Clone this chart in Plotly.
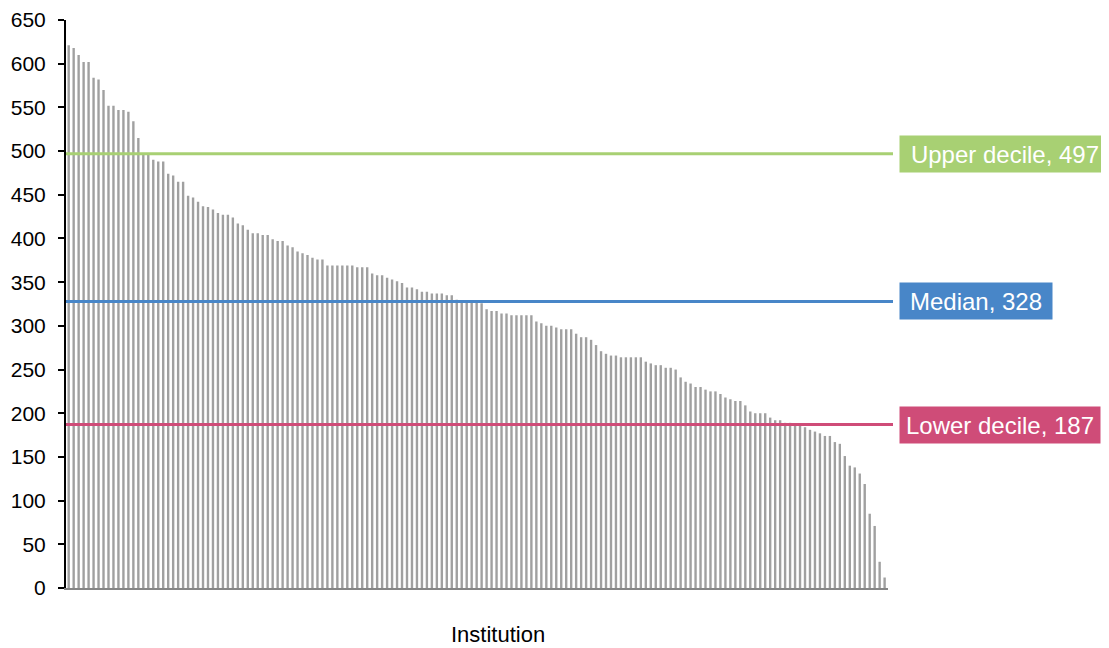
import plotly.graph_objects as go

# Bar values per institution (sorted descending)
values = [
    621, 618, 610, 602, 602, 584, 582, 570, 552, 552,
    547, 547, 545, 534, 515, 497, 497, 490, 488, 488,
    474, 472, 465, 465, 449, 447, 442, 437, 436, 433,
    429, 427, 427, 424, 417, 415, 410, 406, 406, 404,
    404, 399, 397, 397, 392, 390, 385, 383, 381, 378,
    376, 376, 369, 369, 369, 369, 369, 369, 367, 367,
    367, 360, 358, 358, 355, 353, 351, 349, 344, 344,
    342, 339, 339, 337, 337, 337, 335, 335, 330, 328,
    328, 328, 328, 326, 319, 317, 317, 314, 314, 312,
    312, 312, 312, 312, 305, 303, 300, 300, 298, 296,
    296, 296, 291, 287, 287, 284, 278, 271, 268, 266,
    266, 264, 264, 264, 264, 264, 259, 257, 255, 255,
    252, 252, 250, 241, 236, 234, 230, 230, 227, 225,
    225, 222, 218, 216, 214, 214, 209, 202, 200, 200,
    200, 195, 192, 192, 189, 189, 188, 188, 184, 181,
    179, 177, 174, 174, 167, 165, 151, 140, 138, 131,
    119, 85, 71, 30, 12,
]
institutions = list(range(len(values)))

ref_names = ["Upper decile", "Median", "Lower decile"]
ref_values = [497, 328, 187]
ref_colors = ["#a8d073", "#4886c8", "#cf4c78"]
label_widths = [202, 144, 192]

y_ticks = list(range(0, 651, 50))

# page body has an 8px margin, so the figure is drawn 8px smaller/shifted
PLOT_W = 822
PLOT_H = 568

fig = go.Figure()
fig.add_trace(go.Bar(
    x=institutions,
    y=values,
    marker=dict(color="#a0a0a0", line=dict(width=0)),
    showlegend=False,
    hoverinfo="y",
))

for name, val, col, w in zip(ref_names, ref_values, ref_colors, label_widths):
    fig.add_shape(
        type="line", xref="paper", yref="y",
        x0=0, x1=(893 - 66) / PLOT_W, y0=val, y1=val,
        line=dict(color=col, width=3),
    )
    fig.add_annotation(
        xref="paper", yref="y",
        x=(899 - 66) / PLOT_W, y=val,
        xanchor="left", yanchor="middle",
        text=f"{name}, {val}",
        showarrow=False,
        bgcolor=col,
        font=dict(family="Arial, Liberation Sans", size=24, color="white"),
        width=w, height=28, borderpad=4, align="center",
    )

fig.add_annotation(
    xref="paper", yref="paper",
    x=(498 - 66) / PLOT_W, y=-(634 - 588) / PLOT_H,
    xanchor="center", yanchor="middle",
    text="Institution", showarrow=False,
    font=dict(family="Arial, Liberation Sans", size=22, color="black"),
)

fig.update_layout(
    width=1101, height=640,
    margin=dict(l=58, r=221, t=12, b=60, autoexpand=False),
    paper_bgcolor="white", plot_bgcolor="white",
    bargap=0.52,
    font=dict(family="Arial, Liberation Sans", color="black"),
)
fig.update_xaxes(
    range=[-0.54, 164.68], automargin=False,
    showticklabels=False, ticks="",
    showgrid=False, zeroline=False,
    showline=True, linecolor="#868686", linewidth=2,
)
fig.update_yaxes(
    range=[0, 650], tickvals=y_ticks, automargin=False,
    showgrid=False, zeroline=False,
    showline=True, linecolor="black", linewidth=2,
    ticks="outside", ticklen=6, tickcolor="black", tickwidth=1.5,
    tickfont=dict(family="Arial, Liberation Sans", size=21, color="black"),
    ticklabelstandoff=8,
)

fig.write_html("out.html")
